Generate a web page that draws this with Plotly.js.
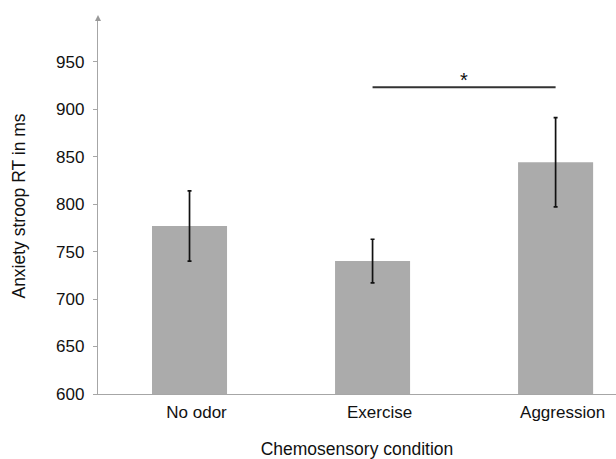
<!DOCTYPE html>
<html>
<head>
<meta charset="utf-8">
<script src="https://cdn.plot.ly/plotly-3.0.1.min.js"></script>
<style>html,body{margin:0;padding:0;background:#fff;}#chart{width:616px;height:459px;}</style>
</head>
<body>
<div id="chart"></div>
<script>
const categories = ["No odor", "Exercise", "Aggression"];
const meanRT = [777, 740, 844];
const errRT = [37, 23, 47];
const sigPair = ["Exercise", "Aggression"];
const sigLevel = 923;
const sigLabel = "*";
const yTicks = [600, 650, 700, 750, 800, 850, 900, 950];

const font = "Liberation Sans, Arial, sans-serif";
const axisGray = "#a6a6a6";
const textColor = "#111";

const trace = {
  type: "bar",
  x: categories,
  y: meanRT,
  marker: {color: "#ababab", line: {width: 0}},
  error_y: {type: "data", array: errRT, visible: true, color: "#111", thickness: 1.7, width: 2},
  hoverinfo: "none"
};

const layout = {
  width: 616, height: 459,
  margin: {l: 98, r: 0, t: 18, b: 65},
  paper_bgcolor: "#fff", plot_bgcolor: "#fff",
  showlegend: false,
  bargap: 0.59,
  font: {family: font, size: 17, color: textColor},
  xaxis: {
    type: "category",
    range: [-0.5, 2.33],
    showline: true, linecolor: axisGray, linewidth: 1.2,
    ticks: "", showgrid: false, zeroline: false,
    ticklabelshift: 7, ticklabelstandoff: 2,
    tickfont: {family: font, size: 17, color: textColor},
    title: {text: "Chemosensory condition", font: {family: font, size: 17.5, color: textColor}, standoff: 25}
  },
  yaxis: {
    range: [600, 996],
    tickvals: yTicks,
    showline: true, linecolor: axisGray, linewidth: 1.2,
    ticks: "outside", ticklen: 4, tickcolor: axisGray, tickwidth: 1,
    ticklabelstandoff: 5,
    showgrid: false, zeroline: false,
    tickfont: {family: font, size: 17, color: textColor},
    title: {text: "Anxiety stroop RT in ms", font: {family: font, size: 17.5, color: textColor}, standoff: 26}
  },
  shapes: [
    {type: "line", xref: "x", yref: "y", x0: sigPair[0], x1: sigPair[1], y0: sigLevel, y1: sigLevel,
     line: {color: "#333", width: 2}},
    {type: "path", xref: "paper", yref: "paper",
     path: "M -0.0058 0.992 L 0.0058 0.992 L 0 1.008 Z", fillcolor: "#999", line: {width: 0}}
  ],
  annotations: [
    {xref: "x", yref: "y", x: 1.5, y: sigLevel, text: sigLabel, showarrow: false, yanchor: "bottom", yshift: -6,
     font: {family: font, size: 20, color: textColor}}
  ]
};

Plotly.newPlot("chart", [trace], layout, {displayModeBar: false, staticPlot: true});
</script>
</body>
</html>
